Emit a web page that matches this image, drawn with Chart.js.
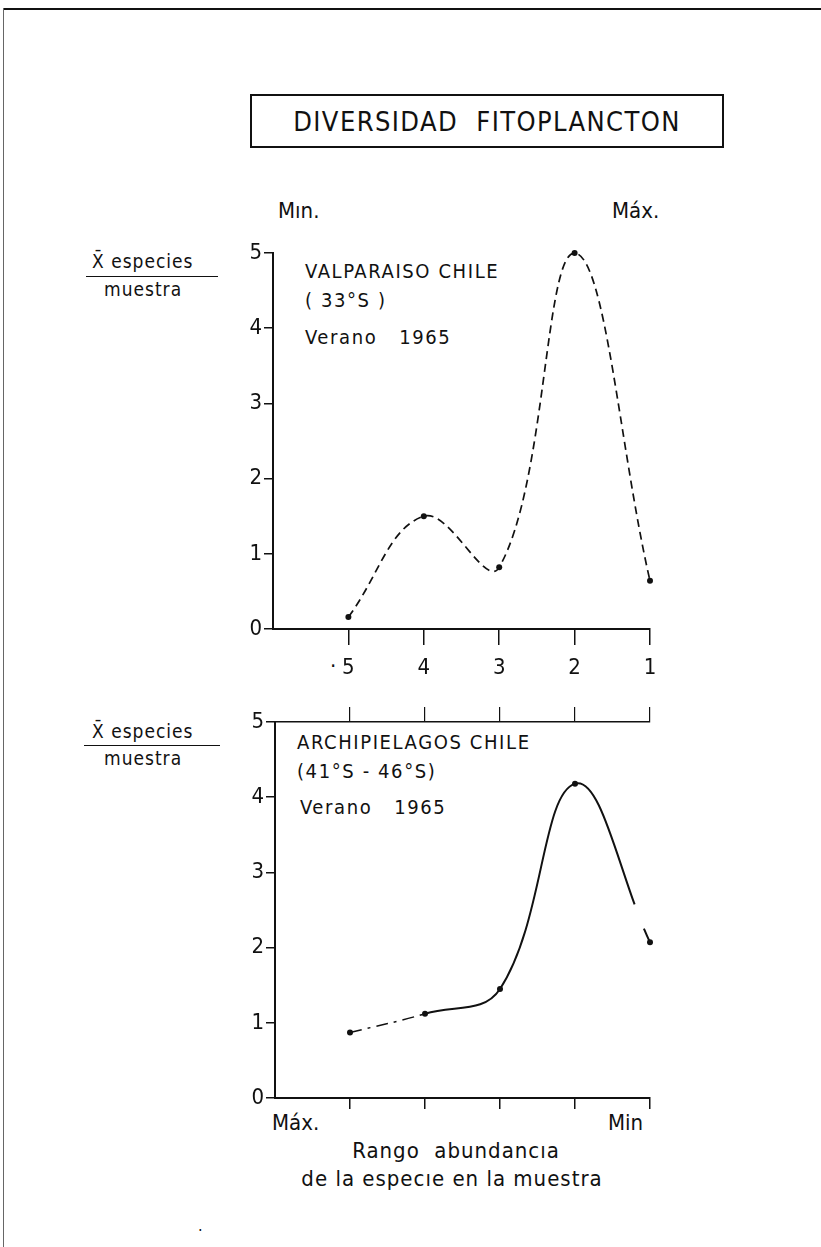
<!DOCTYPE html>
<html>
<head>
<meta charset="utf-8">
<script src="https://cdn.jsdelivr.net/npm/chart.js@4"></script>
<style>
  body { margin: 0; background: #fff; }
  #page { position: relative; width: 821px; height: 1247px; overflow: hidden; background: #fff;
          font-family: "DejaVu Sans Condensed", "Liberation Sans Narrow", "DejaVu Sans", sans-serif; color: #111; }
  canvas { position: absolute; left: 0; }
  .t { position: absolute; white-space: nowrap; line-height: 1; }
  #frameTop { position: absolute; left: 3px; top: 8px; width: 818px; height: 2px; background: #111; }
  #frameLeft { position: absolute; left: 3px; top: 8px; width: 1px; height: 1239px; background: #666; }
  #titleBox { position: absolute; left: 250px; top: 94px; width: 474px; height: 54px; border: 2px solid #111; box-sizing: border-box; }
  .rule { position: absolute; height: 1px; background: #111; }
  .note { font-size: 20px; letter-spacing: 1.6px; }
</style>
</head>
<body>
<div id="page">
  <div id="frameTop"></div>
  <div id="frameLeft"></div>
  <div id="titleBox"></div>
  <div class="t" style="left:487px;top:108px;font-size:27px;transform:translateX(-50%);letter-spacing:1.4px;">DIVERSIDAD&nbsp; FITOPLANCTON</div>

  <div class="t" style="left:278px;top:200px;font-size:22px;">Mın.</div>
  <div class="t" style="left:612px;top:200px;font-size:22px;">Máx.</div>

  <div class="t" style="left:92px;top:252px;font-size:19px;letter-spacing:1px;">X̄ especies</div>
  <div class="rule" style="left:86px;top:276px;width:132px;"></div>
  <div class="t" style="left:104px;top:280px;font-size:19px;letter-spacing:1px;">muestra</div>

  <div class="t note" style="left:305px;top:261px;">VALPARAISO CHILE</div>
  <div class="t note" style="left:305px;top:290px;">( 33°S )</div>
  <div class="t note" style="left:305px;top:327px;">Verano&nbsp;&nbsp; 1965</div>

  <div class="t" style="left:92px;top:722px;font-size:19px;letter-spacing:1px;">X̄ especies</div>
  <div class="rule" style="left:84px;top:745px;width:136px;"></div>
  <div class="t" style="left:104px;top:749px;font-size:19px;letter-spacing:1px;">muestra</div>

  <div class="t note" style="left:297px;top:732px;">ARCHIPIELAGOS CHILE</div>
  <div class="t note" style="left:297px;top:761px;">(41°S - 46°S)</div>
  <div class="t note" style="left:300px;top:797px;">Verano&nbsp;&nbsp; 1965</div>

  <div class="t" style="left:330px;top:655px;font-size:22px;">·</div>
  <div class="t" style="left:272px;top:1112px;font-size:22px;">Máx.</div>
  <div class="t" style="left:608px;top:1112px;font-size:22px;">Min</div>
  <div class="t" style="left:456px;top:1140px;font-size:22px;transform:translateX(-50%);letter-spacing:1px;">Rango&nbsp; abundancıa</div>
  <div class="t" style="left:452px;top:1168px;font-size:22px;transform:translateX(-50%);letter-spacing:1px;">de la especıe en la muestra</div>
  <div class="t" style="left:198px;top:1218px;font-size:16px;">.</div>

  <canvas id="chartTop" width="821" height="700" style="top:0;"></canvas>
  <canvas id="chartBottom" width="821" height="480" style="top:690px;"></canvas>
</div>

<script>
// posición en el eje x (1..5) y rango de abundancia correspondiente
var positions = [1, 2, 3, 4, 5];
var rankLabels = ['5', '4', '3', '2', '1'];
var yTicks = [0, 1, 2, 3, 4, 5];

// media de especies por muestra
var valparaiso = [0.16, 1.5, 0.82, 5.0, 0.64];
var archipielagos = [0.87, 1.12, 1.45, 4.18, 2.07];

var tickFont = { family: "'DejaVu Sans Condensed', 'Liberation Sans Narrow', 'DejaVu Sans', sans-serif", size: 22 };

function points(vals) {
    return positions.map(function (p, i) { return { x: p, y: vals[i] }; });
}

function fixTicks(list) {
    return function (scale) {
        scale.ticks = list.map(function (v) { return { value: v }; });
    };
}

function makeChart(id, vals, dataset, xOpts, target) {
    var ctx = document.getElementById(id).getContext('2d');
    var chart = new Chart(ctx, {
        type: 'line',
        data: {
            datasets: [Object.assign({
                data: points(vals),
                borderColor: '#111',
                tension: 0.4,
                pointRadius: 3,
                pointBackgroundColor: '#111',
                pointBorderWidth: 0,
                clip: false
            }, dataset)]
        },
        options: {
            responsive: false,
            animation: false,
            layout: { padding: { left: 200, right: 171, top: 250, bottom: 20 } },
            plugins: { legend: { display: false }, tooltip: { enabled: false } },
            scales: Object.assign({
                y: {
                    min: 0, max: 5,
                    afterBuildTicks: fixTicks(yTicks),
                    afterFit: function (s) { s.width = 60; },
                    border: { color: '#111', width: 2 },
                    grid: { drawOnChartArea: false, tickLength: 9, color: '#111', lineWidth: 1.5 },
                    ticks: { color: '#111', font: tickFont, padding: 2 }
                }
            }, xOpts)
        }
    });
    var a = chart.chartArea, p = chart.options.layout.padding;
    p.left += target.left - a.left;
    p.top += target.top - a.top;
    p.right += a.right - target.right;
    p.bottom += a.bottom - target.bottom;
    chart.update('none');
    return chart;
}

makeChart('chartTop', valparaiso, { borderWidth: 1.7, borderDash: [8, 5] }, {
    x: {
        type: 'linear', min: 0, max: 5,
        afterBuildTicks: fixTicks(positions),
        afterFit: function (s) { s.height = 50; },
        border: { color: '#111', width: 2 },
        grid: { drawOnChartArea: false, tickLength: 16, color: '#111', lineWidth: 1.5 },
        ticks: {
            color: '#111', font: tickFont, padding: 10,
            callback: function (v) { return rankLabels[positions.indexOf(v)]; }
        }
    }
}, { left: 273, top: 253, right: 650, bottom: 629 });

makeChart('chartBottom', archipielagos, {
    borderWidth: 2,
    segment: {
        // el trazo original está cortado en el primer tramo y cerca del último punto
        borderDash: function (c) {
            if (c.p0DataIndex === 0) return [12, 6, 3, 6];
            if (c.p0DataIndex === 3) return [140, 26, 40];
            return undefined;
        },
        borderWidth: function (c) { return c.p0DataIndex === 0 ? 1.5 : undefined; }
    }
}, {
    x: {
        type: 'linear', min: 0, max: 5,
        afterBuildTicks: fixTicks(positions),
        afterFit: function (s) { s.height = 30; },
        border: { color: '#111', width: 2 },
        grid: { drawOnChartArea: false, tickLength: 11, color: '#111', lineWidth: 1.5 },
        ticks: { display: false }
    },
    xTop: {
        type: 'linear', position: 'top', min: 0, max: 5,
        afterBuildTicks: fixTicks(positions),
        afterFit: function (s) { s.height = 16; },
        border: { color: '#111', width: 1.5 },
        grid: { drawOnChartArea: false, tickLength: 15, color: '#111', lineWidth: 1.2 },
        ticks: { display: false }
    }
}, { left: 275, top: 32, right: 650, bottom: 408 });
</script>
</body>
</html>
